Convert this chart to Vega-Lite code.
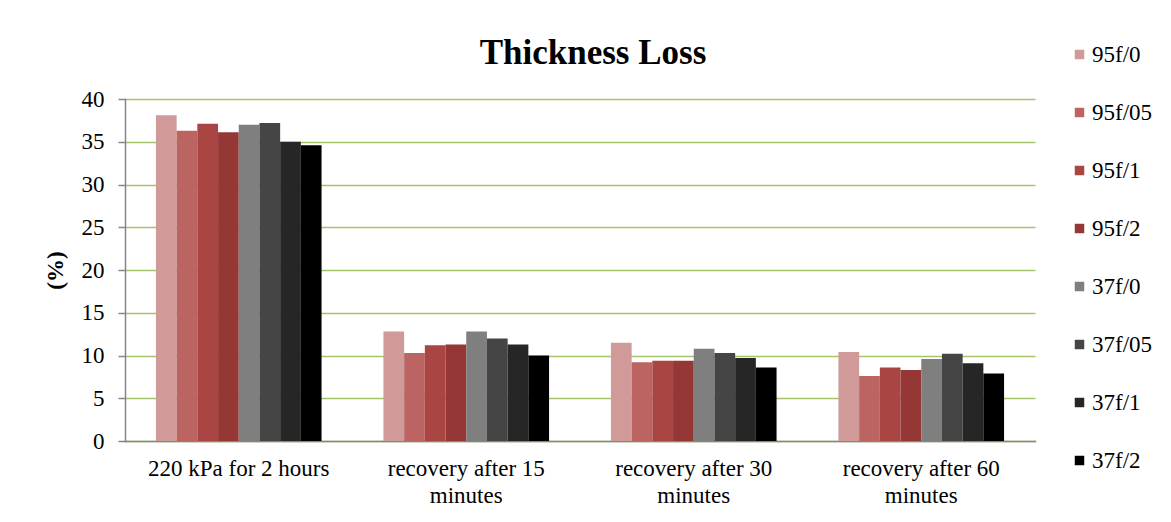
{
  "$schema": "https://vega.github.io/schema/vega-lite/v6.json",
  "autosize": "none",
  "width": 910,
  "height": 342,
  "padding": {"left": 125, "top": 99, "right": 136, "bottom": 81},
  "background": "white",
  "title": {
    "text": "Thickness Loss",
    "font": "Liberation Serif",
    "fontSize": 35,
    "fontWeight": "bold",
    "color": "#000000",
    "anchor": "middle",
    "dx": 13,
    "dy": 56,
    "offset": 28
  },
  "data": {
    "values": [
      {"condition": "220 kPa for 2 hours", "sample": "95f/0", "loss": 38.1},
      {"condition": "220 kPa for 2 hours", "sample": "95f/05", "loss": 36.3},
      {"condition": "220 kPa for 2 hours", "sample": "95f/1", "loss": 37.1},
      {"condition": "220 kPa for 2 hours", "sample": "95f/2", "loss": 36.1},
      {"condition": "220 kPa for 2 hours", "sample": "37f/0", "loss": 37.0},
      {"condition": "220 kPa for 2 hours", "sample": "37f/05", "loss": 37.2},
      {"condition": "220 kPa for 2 hours", "sample": "37f/1", "loss": 35.0},
      {"condition": "220 kPa for 2 hours", "sample": "37f/2", "loss": 34.6},
      {"condition": "recovery after 15 minutes", "sample": "95f/0", "loss": 12.8},
      {"condition": "recovery after 15 minutes", "sample": "95f/05", "loss": 10.3},
      {"condition": "recovery after 15 minutes", "sample": "95f/1", "loss": 11.2},
      {"condition": "recovery after 15 minutes", "sample": "95f/2", "loss": 11.3},
      {"condition": "recovery after 15 minutes", "sample": "37f/0", "loss": 12.8},
      {"condition": "recovery after 15 minutes", "sample": "37f/05", "loss": 12.0},
      {"condition": "recovery after 15 minutes", "sample": "37f/1", "loss": 11.3},
      {"condition": "recovery after 15 minutes", "sample": "37f/2", "loss": 10.0},
      {"condition": "recovery after 30 minutes", "sample": "95f/0", "loss": 11.5},
      {"condition": "recovery after 30 minutes", "sample": "95f/05", "loss": 9.2},
      {"condition": "recovery after 30 minutes", "sample": "95f/1", "loss": 9.4},
      {"condition": "recovery after 30 minutes", "sample": "95f/2", "loss": 9.4},
      {"condition": "recovery after 30 minutes", "sample": "37f/0", "loss": 10.8},
      {"condition": "recovery after 30 minutes", "sample": "37f/05", "loss": 10.3},
      {"condition": "recovery after 30 minutes", "sample": "37f/1", "loss": 9.7},
      {"condition": "recovery after 30 minutes", "sample": "37f/2", "loss": 8.6},
      {"condition": "recovery after 60 minutes", "sample": "95f/0", "loss": 10.4},
      {"condition": "recovery after 60 minutes", "sample": "95f/05", "loss": 7.6},
      {"condition": "recovery after 60 minutes", "sample": "95f/1", "loss": 8.6},
      {"condition": "recovery after 60 minutes", "sample": "95f/2", "loss": 8.3},
      {"condition": "recovery after 60 minutes", "sample": "37f/0", "loss": 9.6},
      {"condition": "recovery after 60 minutes", "sample": "37f/05", "loss": 10.2},
      {"condition": "recovery after 60 minutes", "sample": "37f/1", "loss": 9.1},
      {"condition": "recovery after 60 minutes", "sample": "37f/2", "loss": 7.9}
    ]
  },
  "mark": {"type": "bar"},
  "encoding": {
    "x": {
      "field": "condition",
      "type": "nominal",
      "sort": null,
      "scale": {"paddingInner": 0.272, "paddingOuter": 0.136},
      "axis": {
        "title": null,
        "labelAngle": 0,
        "labelFont": "Liberation Serif",
        "labelFontSize": 23,
        "labelColor": "#000000",
        "labelPadding": 16,
        "labelLineHeight": 27,
        "labelBaseline": "top",
        "labelLimit": 400,
        "labelExpr": "indexof(datum.value, 'recovery') == 0 ? [slice(datum.value, 0, 17), slice(datum.value, 18)] : datum.value",
        "ticks": false,
        "domainColor": "#868686",
        "domainWidth": 1.5,
        "grid": false
      }
    },
    "xOffset": {
      "field": "sample",
      "type": "nominal",
      "sort": ["95f/0", "95f/05", "95f/1", "95f/2", "37f/0", "37f/05", "37f/1", "37f/2"],
      "scale": {"paddingInner": 0, "paddingOuter": 0}
    },
    "y": {
      "field": "loss",
      "type": "quantitative",
      "scale": {"domain": [0, 40], "nice": false},
      "axis": {
        "title": "(%)",
        "titleFont": "Liberation Serif",
        "titleFontSize": 23,
        "titleFontWeight": "bold",
        "titleColor": "#000000",
        "titlePadding": 14,
        "values": [0, 5, 10, 15, 20, 25, 30, 35, 40],
        "labelFont": "Liberation Serif",
        "labelFontSize": 23,
        "labelColor": "#000000",
        "labelPadding": 14,
        "tickSize": 7,
        "tickColor": "#868686",
        "tickWidth": 1.5,
        "domainColor": "#868686",
        "domainWidth": 1.5,
        "grid": true,
        "gridColor": "#a6c46b",
        "gridWidth": 1.5
      }
    },
    "color": {
      "field": "sample",
      "type": "nominal",
      "sort": ["95f/0", "95f/05", "95f/1", "95f/2", "37f/0", "37f/05", "37f/1", "37f/2"],
      "scale": {
        "domain": ["95f/0", "95f/05", "95f/1", "95f/2", "37f/0", "37f/05", "37f/1", "37f/2"],
        "range": ["#d09a99", "#bb6462", "#a94644", "#953735", "#7f7f7f", "#454545", "#262626", "#000000"]
      },
      "legend": {
        "orient": "none",
        "legendX": 943,
        "legendY": -56,
        "title": null,
        "symbolType": "square",
        "symbolSize": 90,
        "symbolStrokeWidth": 0,
        "labelFont": "Liberation Serif",
        "labelFontSize": 23,
        "labelColor": "#000000",
        "labelOffset": 1,
        "rowPadding": 34
      }
    }
  },
  "config": {
    "view": {"stroke": null},
    "axis": {"domainCap": "square"}
  }
}
